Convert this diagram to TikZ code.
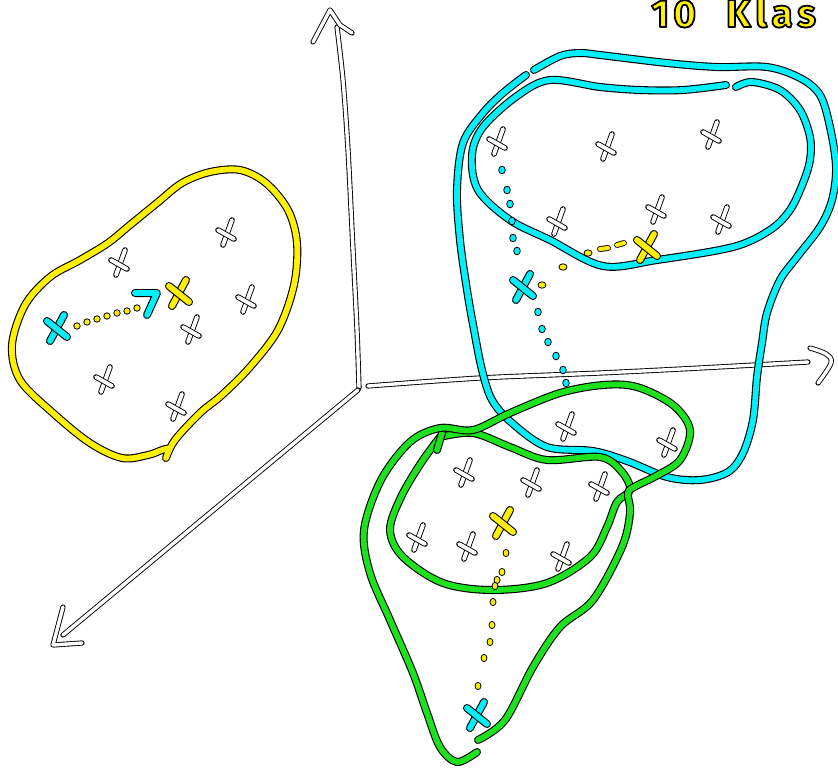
\documentclass[tikz,border=0pt]{standalone}
\usepackage{fontspec}
\newfontfamily\tkfont[LetterSpace=10]{Fira Sans Bold}
\definecolor{Yel}{RGB}{255,240,0}
\definecolor{Cy}{RGB}{0,240,250}
\definecolor{Gr}{RGB}{30,225,30}
\newcommand\outlinetext[1]{\special{pdf:literal direct 0 G 2 Tr 1.8 w 1 j}#1\special{pdf:literal direct 0 Tr}}
\begin{document}
\begin{tikzpicture}[x=1pt,y=-1pt,
  stroke/.style={draw=black, line cap=round, line join=round},
  wl/.style={stroke, line width=0.9pt, double=white, double distance=3.4pt},
  wx/.style={stroke, line width=0.9pt, double=white, double distance=3.8pt},
  yl/.style={stroke, line width=1.1pt, double=Yel, double distance=5.8pt},
  cl/.style={stroke, line width=1.1pt, double=Cy, double distance=5.8pt},
  gl/.style={stroke, line width=1.1pt, double=Gr, double distance=5.8pt},
  ydot/.style={fill=Yel, draw=black, line width=0.8pt},
  cdot/.style={fill=Cy, draw=black, line width=0.8pt},
  pics/xk/.style={code={
    \draw[wx] (5,-13) -- (-4,12);
    \draw[wx] (-9,-3) -- (7,6);
  }},
  pics/cx/.style={code={
    \draw[#1] (7,-13) -- (-7,13);
    \draw[#1] (-10,-7) -- (10,9);
  }},
]
\useasboundingbox (0,0) rectangle (838,769);
\fill[white] (0,0) rectangle (838,769);

% axes
\draw[wl] plot[smooth, tension=0.5] coordinates {(359,388) (357,330) (353,250) (348,150) (343,80) (337,27)};
\draw[wl] (313,42) -- (330,10) -- (340,25) -- (352,33);
\draw[wl] plot[smooth, tension=0.5] coordinates {(368,386) (480,378) (600,373) (700,368) (808,362)};
\draw[wl] plot[smooth, tension=0.6] coordinates {(810,348) (826,354) (831,363) (818,383)};
\draw[wl] (358,390) -- (63,635);
\draw[wl] (63,607) -- (53,645) -- (82,643);

% yellow cluster (left)
\draw[yl] plot[smooth, tension=0.55] coordinates {(166,458) (175,440) (200,413) (222,395) (250,367) (278,330) (294,285) (297,243) (288,210) (266,183) (240,170) (210,172) (182,183) (157,203) (130,225) (108,243) (80,260) (50,277) (25,305) (12,345) (20,380) (53,413) (90,443) (122,458) (148,455) (162,450) (170,448)};

% cyan outer
\draw[cl] plot[smooth, tension=0.55] coordinates {(534,70) (560,56) (580,53) (600,55) (667,63) (717,67) (767,67) (800,78) (820,95) (830,127) (836,167) (832,200) (820,227) (797,257) (780,280) (767,313) (762,343) (757,377) (753,420) (743,453) (728,472) (700,480) (667,477) (627,461) (593,451) (547,447) (512,423) (492,400) (482,370) (474,330) (467,290) (460,240) (457,190) (463,143) (483,113) (503,93) (526,75)};
% cyan inner
\draw[cl] plot[smooth, tension=0.55] coordinates {(726,85) (683,90) (640,90) (600,87) (550,80) (517,96) (483,127) (472,155) (478,190) (510,220) (550,240) (603,266) (657,260) (733,247) (770,230) (790,210) (803,183) (810,160) (810,137) (800,110) (780,90) (752,82) (736,87)};

% green
\draw[gl] plot[smooth, tension=0.55] coordinates {(440,437) (473,433) (510,447) (547,460) (600,457) (622,472) (630,490) (617,502) (607,527) (590,557) (547,583) (493,590) (443,583) (403,557) (390,530) (401,497) (421,463) (440,437)};
\draw[gl] (442,433) -- (437,450);
\draw[gl] plot[smooth, tension=0.55] coordinates {(478,740) (505,720) (533,667) (560,627) (593,600) (622,547) (630,513) (628,493) (636,486) (656,476) (680,460) (690,430) (673,405) (637,387) (603,385) (560,393) (510,413) (473,430) (440,428) (410,442) (381,480) (364,530) (370,573) (390,620) (413,673) (427,713) (440,747) (457,762) (477,752)};

% white crosses
\foreach \p in {(120,263),(227,233),(247,300),(192,330),(105,380),(177,407),
  (498,142),(607,147),(712,135),(558,222),(657,210),(722,220),
  (567,427),(668,443),(465,473),(532,483),(600,487),(418,538),(468,547),(562,557)}
  \pic at \p {xk};

% dots left
\foreach \p in {(77,326),(87,322),(97,319),(107,316),(117,313),(127,311),(137,308)}
  \fill[ydot] \p circle (3.2);
\draw[cl] (135,293) -- (157,293) -- (147,315);
% dots right cluster
\foreach \p in {(502,170),(507,190),(510,204),(512,221),(513,238),(517,251),
  (538,312),(542,329),(548,342),(556,356),(563,370),(566,383)}
  \fill[cdot] \p ellipse (3.3 and 3.8);
\foreach \p in {(588,253),(563,267),(542,285)}
  \fill[ydot] \p ellipse (4 and 3.2);
\draw[yl, line width=0.9pt, double distance=4pt] (617,245) -- (624,243);
\draw[yl, line width=0.9pt, double distance=4pt] (600,249) -- (608,248);
% dots green cluster
\foreach \p in {(506,553),(502,572),(497,580),(495,586),(493,602),(492,625),(490,642),(484,658),(478,686)}
  \fill[ydot] \p ellipse (3 and 3.6);

% centroid marks
\pic at (179,293) {cx=yl};
\pic at (647,247) {cx=yl};
\pic at (503,523) {cx=yl};
\pic at (57,328) {cx=cl};
\pic at (523,287) {cx=cl};
\pic at (477,715) {cx=cl};

% title
\node (title) [anchor=base west, inner sep=0pt, text=Yel, font=\tkfont\fontsize{39}{40}\selectfont] at (651,27) {\outlinetext{10\hspace{30pt}{\addfontfeature{LetterSpace=12}Klas}}};
\end{tikzpicture}
\end{document}
